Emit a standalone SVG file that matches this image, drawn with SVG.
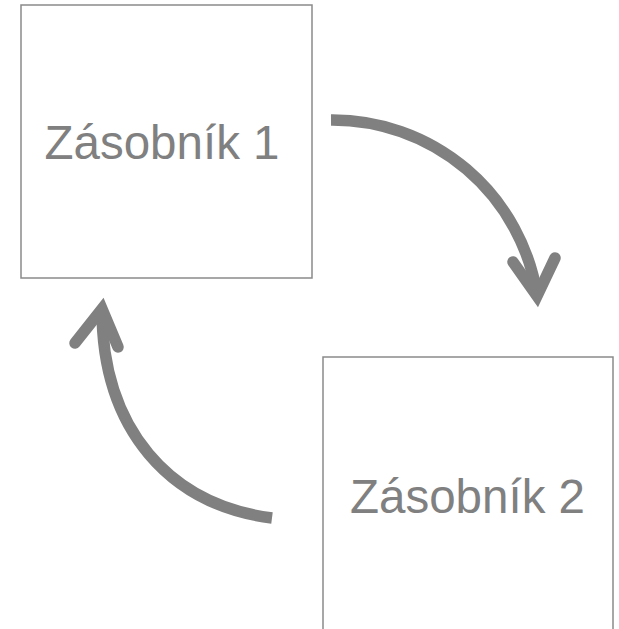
<svg xmlns="http://www.w3.org/2000/svg" width="619" height="629" viewBox="0 0 619 629">
<style>
.box{fill:#ffffff;stroke:#8a8a8a;stroke-width:1.5}
.lbl{font-family:"Liberation Sans",Arial,sans-serif;font-size:47.5px;fill:#808080;text-anchor:middle}
.arc{fill:none;stroke:#808080;stroke-width:11.5}
.head{fill:none;stroke:#808080;stroke-width:11.5;stroke-linecap:round;stroke-linejoin:miter;stroke-miterlimit:10}
</style>
<rect width="619" height="629" fill="#ffffff"/>
<g id="zasobnik1">
<rect class="box" x="21" y="5" width="291" height="273"/>
<text class="lbl" x="162" y="158.5">Zásobník 1</text>
</g>
<g id="zasobnik2">
<rect class="box" x="323" y="357" width="290" height="290"/>
<text class="lbl" x="467.5" y="512.5">Zásobník 2</text>
</g>
<g id="connectors">
<path class="arc" d="M331,120 A207,207 0 0 1 537,295"/>
<path class="head" d="M513,262 L537,296 L555,258"/>
<path class="arc" d="M272,518 C170,505 102,430 102,309"/>
<path class="head" d="M75,343 L102,309 L118,347"/>
</g>
</svg>
